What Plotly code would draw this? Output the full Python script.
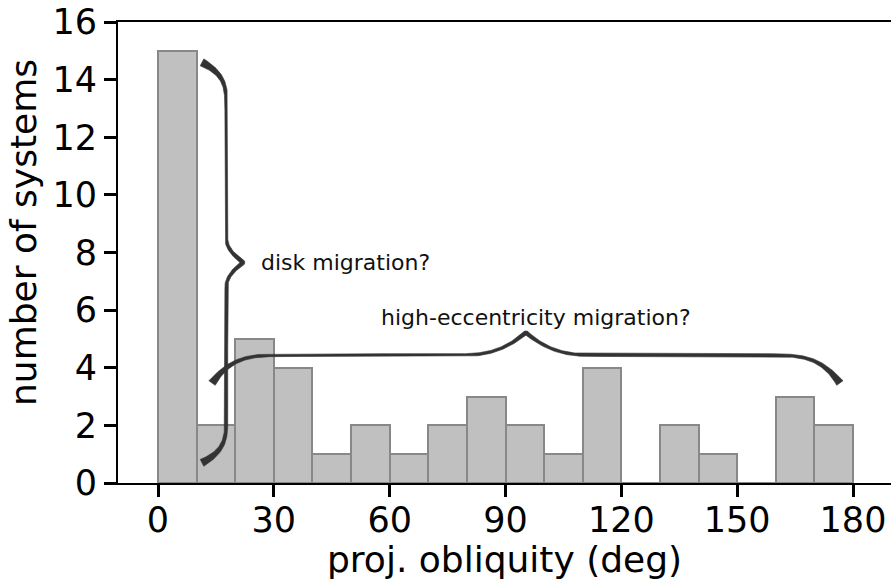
import numpy as np
import plotly.graph_objects as go

# Histogram of projected obliquities, 10-degree bins
bin_left = list(range(0, 180, 10))
counts = [15, 2, 5, 4, 1, 2, 1, 2, 3, 2, 1, 4, 0, 2, 1, 0, 3, 2]

x_ticks = [0, 30, 60, 90, 120, 150, 180]
y_ticks = [0, 2, 4, 6, 8, 10, 12, 14, 16]

# Brace anchors (data units): start, end, depth of the bend and reach of the tip
disk_brace = dict(start=(11.4, 14.6), end=(11.4, 0.7), depth=6.3, tip=4.4)
hem_brace = dict(start=(14.0, 3.47), end=(176.6, 3.47), depth=0.97, tip=0.78)

disk_label = dict(x=26.2, y=7.64, text="disk migration?")
hem_label = dict(x=97.9, y=5.73, text="high-eccentricity migration?")

x_title = "proj. obliquity (deg)"
y_title = "number of systems"

# Figure geometry
W, H = 891, 580
ML, MR, MT, MB = 118, 0, 22, 97
X_RANGE = [-10.36, -10.36 + (W - ML - MR) / (695 / 180)]
Y_RANGE = [0, 16]
SX = (W - ML - MR) / (X_RANGE[1] - X_RANGE[0])
SY = (H - MT - MB) / (Y_RANGE[1] - Y_RANGE[0])


def to_px(x, y):
    return (x - X_RANGE[0]) * SX, (Y_RANGE[1] - y) * SY


def to_data(px, py):
    return px / SX + X_RANGE[0], Y_RANGE[1] - py / SY


def brace_polygon(start, end, depth, tip, r_end, r_tip, p_end=4.0, p_tip=2.3,
                  w_mid=2.8, w_end=5.0, w_tip=1.5, n=600):
    """Curly brace as a filled outline with tapered, heavier ends."""
    p0 = np.array(to_px(*start))
    p1 = np.array(to_px(*end))
    L = np.linalg.norm(p1 - p0)
    u = (p1 - p0) / L
    # the brace bulges to the left of start->end in screen coordinates
    nvec = np.array([u[1], -u[0]])
    scale = SX if abs(u[1]) > 0.5 else SY
    d_px, t_px = depth * scale, tip * scale
    s = np.linspace(0, L, n)
    half = L / 2
    a = np.where(s <= half, s, L - s)          # distance from nearest end
    e = np.clip(a / r_end, 0, 1)
    off = d_px * (1 - (1 - e) ** p_end)
    q = np.clip(1 - (half - a) / r_tip, 0, 1)  # 0 away from tip, 1 at tip
    off = off + t_px * q ** p_tip
    cx = p0[0] + u[0] * s + nvec[0] * off
    cy = p0[1] + u[1] * s + nvec[1] * off
    dx = np.gradient(cx)
    dy = np.gradient(cy)
    nn = np.hypot(dx, dy)
    nx, ny = -dy / nn, dx / nn
    w = w_mid + w_end * np.exp(-a / 12) + w_tip * np.exp(-(half - a) / 10)
    lx, ly = cx + nx * w / 2, cy + ny * w / 2
    rx, ry = cx - nx * w / 2, cy - ny * w / 2
    px = np.concatenate([lx, rx[::-1], lx[:1]])
    py = np.concatenate([ly, ry[::-1], ly[:1]])
    return to_data(px, py)


fig = go.Figure()

fig.add_trace(go.Bar(
    x=[b + 5 for b in bin_left], y=counts, width=10,
    marker=dict(color="#c0c0c0", line=dict(color="#888888", width=2)),
    hoverinfo="skip", showlegend=False,
))

for br, r_end, r_tip, p_tip in ((disk_brace, 50, 24, 2.0), (hem_brace, 80, 65, 2.5)):
    bx, by = brace_polygon(**br, r_end=r_end, r_tip=r_tip, p_tip=p_tip)
    fig.add_trace(go.Scatter(
        x=bx, y=by, mode="lines", fill="toself",
        fillcolor="#333333", line=dict(color="#333333", width=0.6),
        hoverinfo="skip", showlegend=False,
    ))

for lab, anchor in ((disk_label, "left"), (hem_label, "center")):
    fig.add_annotation(x=lab["x"], y=lab["y"], text=lab["text"],
                       xanchor=anchor, yanchor="middle", showarrow=False,
                       font=dict(family="DejaVu Sans", size=22, color="#111111"))

# axis titles, placed relative to the plot area
fig.add_annotation(text=x_title, xref="paper", yref="paper",
                   x=0.5, y=0, yshift=-99, showarrow=False,
                   xanchor="center", yanchor="bottom",
                   font=dict(family="DejaVu Sans", size=36, color="black"))
fig.add_annotation(text=y_title, xref="paper", yref="paper",
                   x=0, y=(483 - 233) / 461, xshift=-95, textangle=-90,
                   showarrow=False, xanchor="center", yanchor="middle",
                   font=dict(family="DejaVu Sans", size=36, color="black"))

axis_common = dict(
    showgrid=False, zeroline=False, automargin=False,
    showline=True, linecolor="black", linewidth=2,
    ticks="outside", ticklen=12, tickwidth=3, tickcolor="black",
    tickfont=dict(size=35, color="black"),
)

fig.update_layout(
    width=W, height=H,
    margin=dict(l=ML, r=MR, t=MT, b=MB),
    paper_bgcolor="white", plot_bgcolor="white",
    bargap=0,
    font=dict(family="DejaVu Sans", color="black"),
    xaxis=dict(
        range=X_RANGE, tickvals=x_ticks, ticktext=[str(v) for v in x_ticks],
        mirror=True, ticklabelstandoff=-7,
        **axis_common,
    ),
    yaxis=dict(
        range=Y_RANGE, tickvals=y_ticks, ticktext=[str(v) for v in y_ticks],
        **axis_common,
    ),
)

fig.write_html("out.html")
